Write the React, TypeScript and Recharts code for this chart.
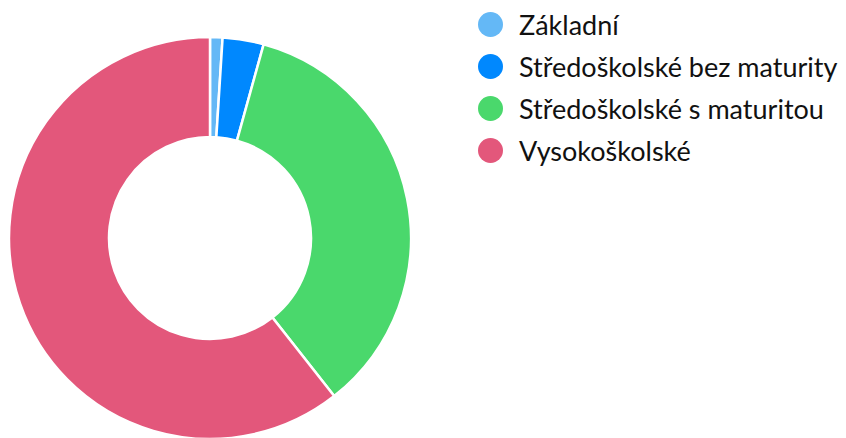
import React from 'react';
import {Cell, Legend, Pie, PieChart} from 'recharts';

const categories = ['Základní', 'Středoškolské bez maturity', 'Středoškolské s maturitou', 'Vysokoškolské'];
const values = [1.0, 3.3, 35.1, 60.6];
const colors = ['#64B8F6', '#0088FE', '#4AD86C', '#E3577B'];

const data = categories.map((name, i) => ({name, value: values[i]}));

const renderLegend = () => (
    <div style={{fontFamily: 'Lato, sans-serif', fontSize: 27, color: '#111'}}>
        {data.map((d, i) => (
            <div key={d.name} style={{display: 'flex', alignItems: 'center', height: 42}}>
                <span style={{
                    display: 'inline-block', width: 25, height: 25, borderRadius: '50%',
                    background: colors[i], marginRight: 16, flexShrink: 0,
                }} />
                <span>{d.name}</span>
            </div>
        ))}
    </div>
);

const App = () => {
    return (
        <div style={{position: 'absolute', left: 0, top: 0}}>
            <PieChart width={846} height={438} margin={{top: 0, right: 0, bottom: 0, left: 0}}>
                <Pie
                    data={data}
                    dataKey="value"
                    nameKey="name"
                    cx={210}
                    cy={238}
                    innerRadius={101}
                    outerRadius={201}
                    startAngle={90}
                    endAngle={-270}
                    stroke="#fff"
                    strokeWidth={2.5}
                    isAnimationActive={false}
                >
                    {data.map((d, i) => <Cell key={d.name} fill={colors[i]} />)}
                </Pie>
                <Legend
                    layout="vertical"
                    align="right"
                    verticalAlign="top"
                    content={renderLegend}
                    wrapperStyle={{left: 478, top: 3, width: 368}}
                />
            </PieChart>
        </div>
    );
};

export default App;
